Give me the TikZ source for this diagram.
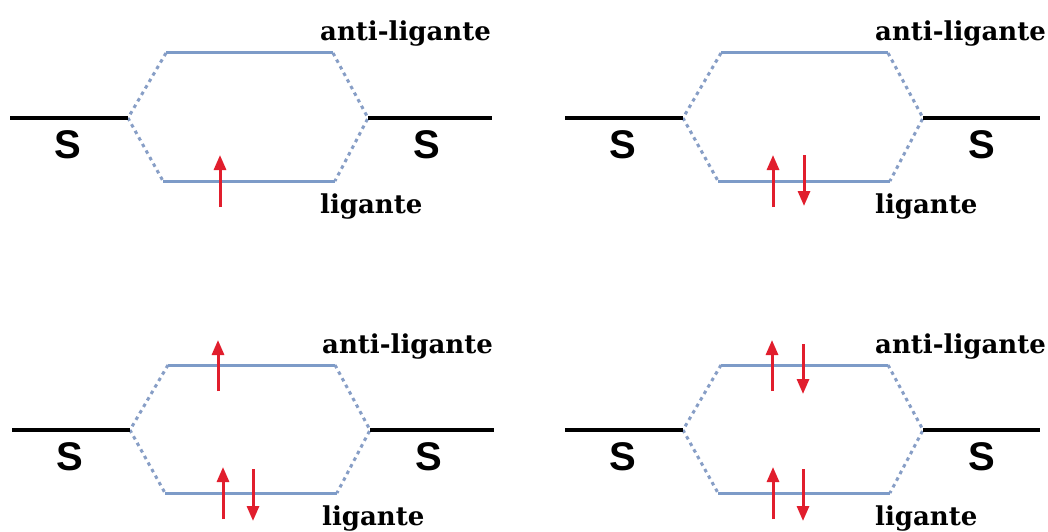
\documentclass[tikz,border=0pt]{standalone}
\usepackage{fontspec}
\setmainfont{DejaVu Serif}
\newfontfamily\sfont{Liberation Sans}
\usetikzlibrary{arrows.meta}
\definecolor{orb}{RGB}{125,155,200}
\definecolor{dotc}{RGB}{135,158,198}
\definecolor{spin}{RGB}{225,30,45}
\tikzset{
  atomlvl/.style={line width=4.5pt, black},
  molvl/.style={line width=3pt, orb},
  corr/.style={line width=3pt, dotc, dash pattern=on 3.5pt off 4pt},
  lbl/.style={font=\fontsize{26}{28}\selectfont\bfseries, inner sep=0pt, anchor=base west},
  slbl/.style={font=\sfont\fontsize{40}{42}\selectfont\bfseries, inner sep=0pt, anchor=base},
  el/.style={line width=3pt, spin, -{Triangle[width=12pt,length=15pt]}}
}
% #1,#2 shift, #3 prefix, #4 right end of right atomic level (local)
\newcommand{\mopanel}[4]{%
 \begin{scope}[shift={(#1,#2)}]
  \coordinate (#3L1) at (10,118); \coordinate (#3L2) at (128,118);
  \coordinate (#3R1) at (368,118); \coordinate (#3R2) at (#4,118);
  \coordinate (#3A1) at (166,53); \coordinate (#3A2) at (333,53);
  \coordinate (#3B1) at (163,181); \coordinate (#3B2) at (335,181);
  \draw[corr] (#3A1) -- (#3L2) -- (#3B1);
  \draw[corr] (#3A2) -- (#3R1) -- (#3B2);
  \draw[atomlvl] (#3L1) -- (#3L2);
  \draw[atomlvl] (#3R1) -- (#3R2);
  \draw[molvl] (#3A1) -- (#3A2);
  \draw[molvl] (#3B1) -- (#3B2);
  \node[slbl] (#3sl) at (67.5,158) {S};
  \node[slbl] (#3sr) at (427,158) {S};
  \node[lbl] (#3anti) at (320,41) {anti-ligante};
  \node[lbl] (#3lig) at (320,213) {ligante};
 \end{scope}}
\begin{document}
\begin{tikzpicture}[x=1pt,y=-1pt]
\useasboundingbox (0,0) rectangle (1048,532);
\fill[white] (0,0) rectangle (1048,532);
\mopanel{0}{0}{p}{492}
\mopanel{555}{0}{q}{485}
\mopanel{2}{312}{r}{492}
\mopanel{555}{312}{s}{485}
% electrons
\coordinate (e1a) at (220,207); \coordinate (e1b) at (220,155);
\draw[el] (e1a) -- (e1b);
\coordinate (e2a) at (773,207); \coordinate (e2b) at (773,155);
\coordinate (e3a) at (804,155); \coordinate (e3b) at (804,206);
\draw[el] (e2a) -- (e2b);
\draw[el] (e3a) -- (e3b);
\coordinate (e4a) at (218,391); \coordinate (e4b) at (218,340);
\coordinate (e5a) at (223,519); \coordinate (e5b) at (223,467);
\coordinate (e6a) at (253,469); \coordinate (e6b) at (253,521);
\draw[el] (e4a) -- (e4b);
\draw[el] (e5a) -- (e5b);
\draw[el] (e6a) -- (e6b);
\coordinate (e7a) at (772,391); \coordinate (e7b) at (772,340);
\coordinate (e8a) at (803,344); \coordinate (e8b) at (803,394);
\coordinate (e9a) at (773,519); \coordinate (e9b) at (773,467);
\coordinate (e10a) at (803,469); \coordinate (e10b) at (803,521);
\draw[el] (e7a) -- (e7b);
\draw[el] (e8a) -- (e8b);
\draw[el] (e9a) -- (e9b);
\draw[el] (e10a) -- (e10b);
\end{tikzpicture}
\end{document}
